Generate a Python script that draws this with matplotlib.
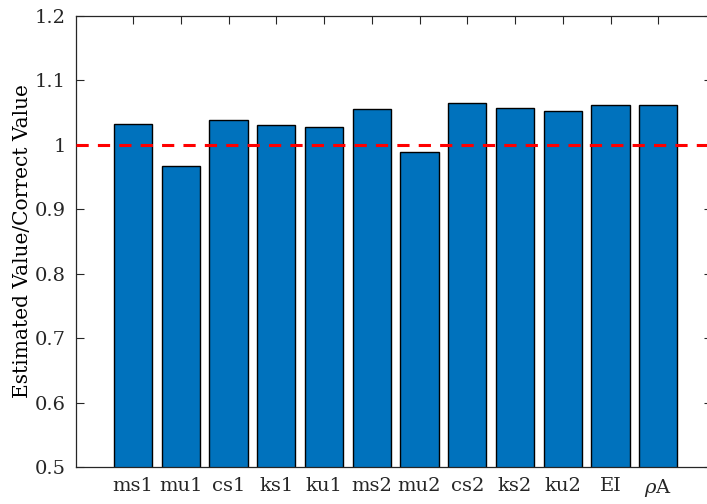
import matplotlib
matplotlib.use("Agg")
import matplotlib.pyplot as plt
import numpy as np

categories = ["ms1", "mu1", "cs1", "ks1", "ku1", "ms2", "mu2", "cs2", "ks2", "ku2", "EI", r"$\rho$A"]
values = [1.032, 0.967, 1.039, 1.031, 1.028, 1.056, 0.989, 1.0645, 1.057, 1.0526, 1.062, 1.0614]
yticks = [0.5, 0.6, 0.7, 0.8, 0.9, 1.0, 1.1, 1.2]
yticklabels = ["0.5", "0.6", "0.7", "0.8", "0.9", "1", "1.1", "1.2"]
ref_value = 1.0

plt.rcParams['font.family'] = ['DejaVu Serif']
plt.rcParams['mathtext.fontset'] = 'dejavuserif'

W, H = 707, 504
fig = plt.figure(figsize=(W / 100, H / 100), dpi=100)
ax = fig.add_axes([75.7 / W, 1 - 467 / H, (712 - 75.7) / W, (467 - 16) / H])

x = np.arange(len(categories))
ax.bar(x, values, width=0.8, color="#0072BD", edgecolor="black", linewidth=1.0, zorder=2)
ax.axhline(ref_value, color="red", linestyle=(0, (4, 3)), linewidth=2.2, zorder=3)

ax.set_xlim(-1.2, 12.0 + (712 - 706) / 47.8)
ax.set_ylim(0.5, 1.2)
ax.set_xticks(x)
ax.set_xticklabels(categories, fontsize=14)
ax.set_yticks(yticks)
ax.set_yticklabels(yticklabels, fontsize=14)
ax.set_ylabel("Estimated Value/Correct Value", fontsize=14.5, labelpad=2)

ax.tick_params(direction="in", length=6, width=0.8, color="#262626", top=True, right=True,
               labelcolor="#262626", pad=7)
for s in ax.spines.values():
    s.set_color("#262626")
    s.set_linewidth(0.9)

fig.savefig("out.png", dpi=100)
